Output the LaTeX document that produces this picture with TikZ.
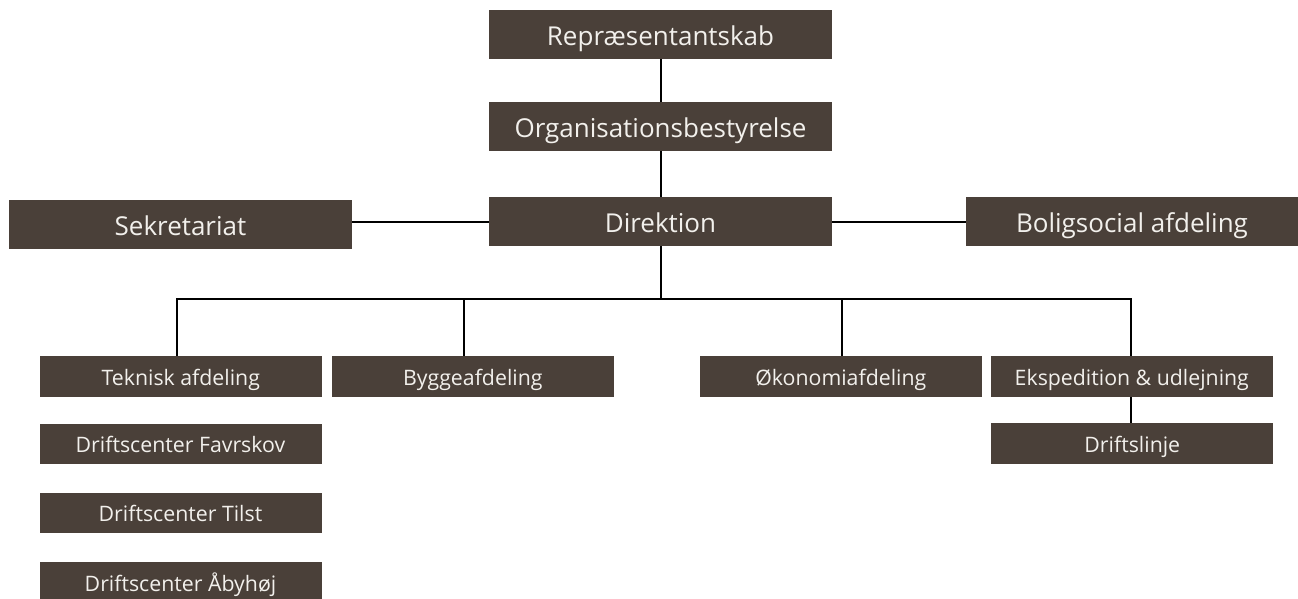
\documentclass[tikz,border=0pt]{standalone}
\usepackage{fontspec}
\setmainfont{Open Sans}
\definecolor{boxbrown}{RGB}{74,64,57}
\definecolor{boxtext}{RGB}{242,240,236}
\tikzset{
  orgbox/.style={fill=boxbrown, text=boxtext, inner sep=0pt, draw=none, anchor=center},
  bigbox/.style={orgbox, font=\fontsize{26}{31}\selectfont, text height=21.6pt, text depth=0pt, minimum height=49pt},
  smallbox/.style={orgbox, font=\fontsize{21.3}{25}\selectfont, text height=18.2pt, text depth=0pt, minimum height=40.5pt, minimum width=282pt},
  link/.style={draw=black, line width=2pt}
}
\begin{document}
\begin{tikzpicture}[x=1pt, y=-1pt]
\useasboundingbox (0,0) rectangle (1298,598);
\clip (0,0) rectangle (1298,598);
% top column
\node[bigbox, minimum width=343pt] (rep) at (660.5,34.5) {Repræsentantskab};
\node[bigbox, minimum width=343pt] (org) at (660.5,126.5) {Organisationsbestyrelse};
\node[bigbox, minimum width=343pt] (dir) at (660.5,221.5) {Direktion};
\node[bigbox, minimum width=343pt] (sek) at (180.5,224.5) {Sekretariat};
\node[bigbox, minimum width=332pt] (bol) at (1132,221.3) {Boligsocial afdeling};
% lower row
\node[smallbox] (tek) at (180.8,376.5) {Teknisk afdeling};
\node[smallbox] (byg) at (472.8,376.5) {Byggeafdeling};
\node[smallbox] (oko) at (840.8,376.5) {Økonomiafdeling};
\node[smallbox] (eks) at (1131.8,376.5) {Ekspedition \& udlejning};
\node[smallbox] (drl) at (1132.3,443.3) {Driftslinje};
\node[smallbox] (fav) at (180.5,443.8) {Driftscenter Favrskov};
\node[smallbox] (til) at (180.5,512.8) {Driftscenter Tilst};
\node[smallbox] (aby) at (180.5,582) {Driftscenter Åbyhøj};
% bus coordinates
\coordinate (busT) at (176.7,299.3);
\coordinate (busB) at (464.3,299.3);
\coordinate (busM) at (660.5,299.3);
\coordinate (busO) at (841.7,299.3);
\coordinate (busE) at (1130.7,299.3);
\coordinate (lsek) at (sek.east |- 0,222.3);
\coordinate (ldirL) at (dir.west |- 0,222.3);
\coordinate (ldirR) at (dir.east |- 0,222.3);
\coordinate (lbol) at (bol.west |- 0,222.3);
% connectors
\draw[link] (rep.south) -- (org.north);
\draw[link] (org.south) -- (dir.north);
\draw[link] (lsek) -- (ldirL);
\draw[link] (ldirR) -- (lbol);
\draw[link] (dir.south) -- (busM);
\draw[link] (busT |- tek.north) -- (busT) -- (busE) -- (busE |- eks.north);
\draw[link] (busB) -- (busB |- byg.north);
\draw[link] (busO) -- (busO |- oko.north);
\draw[link] (busE |- eks.south) -- (busE |- drl.north);
\end{tikzpicture}
\end{document}
